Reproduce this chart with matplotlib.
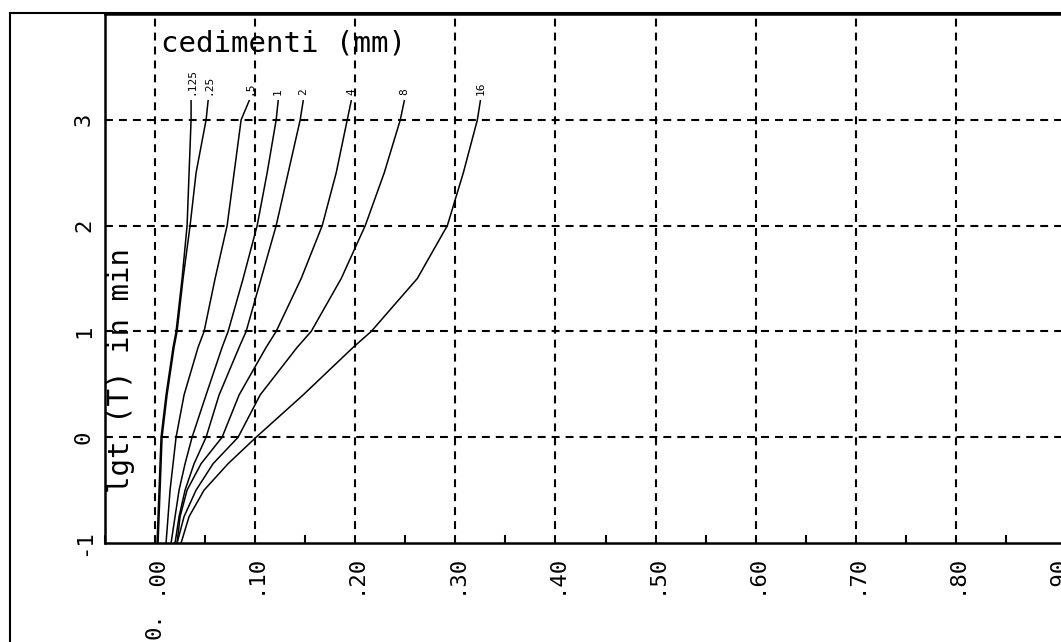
import numpy as np
import matplotlib
matplotlib.use("Agg")
import matplotlib.pyplot as plt
from matplotlib.lines import Line2D

plt.rcParams['font.family'] = ['DejaVu Sans Mono']

# log10 of time (min) at which each settlement curve is sampled
lgt = [-1.0, -0.75, -0.5, -0.25, 0.0, 0.4, 0.85, 1.0, 1.5, 2.0, 2.5, 3.0, 3.18]

# settlement (mm) for each load step
loads = [".125", ".25", ".5", "1", "2", "4", "8", "16"]
sed_0125 = [0.002, 0.003, 0.004, 0.005, 0.006, 0.011, 0.018, 0.021, 0.027, 0.032, 0.034, 0.036, 0.036]
sed_025 = [0.003, 0.004, 0.005, 0.006, 0.007, 0.012, 0.019, 0.022, 0.028, 0.035, 0.041, 0.051, 0.053]
sed_05 = [0.011, 0.013, 0.015, 0.018, 0.021, 0.029, 0.043, 0.049, 0.060, 0.072, 0.079, 0.086, 0.094]
sed_1 = [0.016, 0.020, 0.024, 0.030, 0.037, 0.051, 0.067, 0.073, 0.088, 0.102, 0.112, 0.121, 0.123]
sed_2 = [0.020, 0.024, 0.030, 0.039, 0.051, 0.064, 0.084, 0.091, 0.106, 0.121, 0.133, 0.145, 0.148]
sed_4 = [0.022, 0.025, 0.032, 0.046, 0.067, 0.084, 0.111, 0.121, 0.146, 0.167, 0.181, 0.192, 0.196]
sed_8 = [0.022, 0.029, 0.041, 0.058, 0.083, 0.105, 0.142, 0.156, 0.186, 0.210, 0.229, 0.245, 0.249]
sed_16 = [0.026, 0.034, 0.049, 0.073, 0.101, 0.148, 0.198, 0.216, 0.262, 0.292, 0.308, 0.322, 0.325]
curves = [sed_0125, sed_025, sed_05, sed_1, sed_2, sed_4, sed_8, sed_16]

xticks = [0.0, 0.1, 0.2, 0.3, 0.4, 0.5, 0.6, 0.7, 0.8, 0.9]
xtick_labels = [".00", ".10", ".20", ".30", ".40", ".50", ".60", ".70", ".80", ".90"]
yticks = [-1, 0, 1, 2, 3]

W, H = 1061, 642
fig = plt.figure(figsize=(W / 100, H / 100), dpi=100)
ax = fig.add_axes([105 / W, 1 - 543 / H, (1106 - 105) / W, (543 - 14) / H])
ax.set_xlim(-0.05, 0.95)
ax.set_ylim(-1.0, 4.0)

for s in curves:
    ax.plot(s, lgt, color='black', lw=1.1, zorder=3)

# load labels above the curve ends
for lab, s in zip(loads, curves):
    ax.text(s[-1], lgt[-1] + 0.05, lab, rotation=90, ha='center', va='bottom',
            fontsize=8, color='black')

# dashed grid
for xv in xticks[:-1]:
    ax.axvline(xv, color='black', lw=1.5, ls=(0, (3.8, 2.9)), zorder=1)
for yv in yticks[1:]:
    ax.axhline(yv, color='black', lw=1.5, ls=(0, (3.8, 2.9)), zorder=1)

ax.set_xticks(xticks)
ax.set_xticklabels(xtick_labels, rotation=90, fontsize=16)
ax.set_xticks(np.arange(-0.05, 0.95, 0.1), minor=True)
ax.set_yticks(yticks)
ax.set_yticklabels([str(v) for v in yticks], rotation=90, fontsize=16, va='center')
ax.tick_params(axis='x', which='major', direction='in', length=0, pad=8)
ax.tick_params(axis='x', which='minor', direction='in', length=6, width=1.5)
ax.tick_params(axis='y', direction='in', length=0, pad=8)
for sp in ax.spines.values():
    sp.set_linewidth(1.8)

ax.text(0.006, 3.72, "cedimenti (mm)", fontsize=21, ha='left', va='center')
ax.text(-0.034, 0.63, "lgt (T) in min", fontsize=21, rotation=90,
        ha='center', va='center')

fig.text(155 / W, 1 - 626 / H, "0.", rotation=90, fontsize=16,
         ha='center', va='center')

# outer frame of the sheet
fig.add_artist(Line2D([10 / W, 10 / W], [0, 1 - 13 / H], transform=fig.transFigure,
                      color='black', lw=1.5))
fig.add_artist(Line2D([10 / W, 1], [1 - 13 / H, 1 - 13 / H], transform=fig.transFigure,
                      color='black', lw=1.5))

fig.savefig("out.png", dpi=100)
